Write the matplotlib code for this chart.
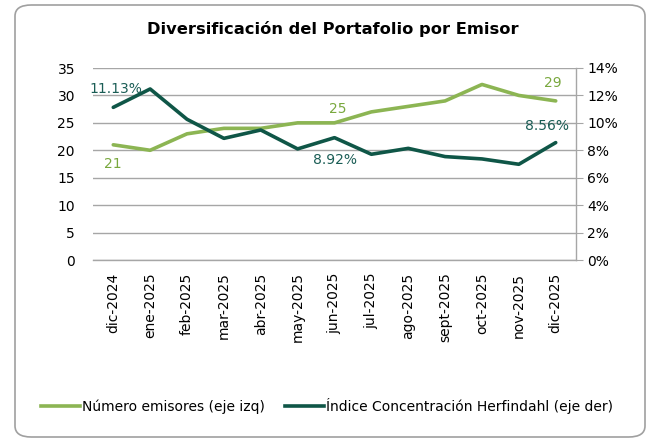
import numpy as np
import matplotlib.pyplot as plt
from matplotlib.patches import FancyBboxPatch
from matplotlib.ticker import FuncFormatter

# data
months = ['dic-2024', 'ene-2025', 'feb-2025', 'mar-2025', 'abr-2025', 'may-2025',
          'jun-2025', 'jul-2025', 'ago-2025', 'sept-2025', 'oct-2025', 'nov-2025', 'dic-2025']
emisores = [21, 20, 23, 24, 24, 25, 25, 27, 28, 29, 32, 30, 29]
herfindahl = [11.13, 12.47, 10.26, 8.87, 9.48, 8.10, 8.92, 7.71, 8.14, 7.54, 7.37, 6.98, 8.56]

light = '#8cb553'
dark = '#0f5647'
light_txt = '#79a83e'
dark_txt = '#1a5d55'
grid_c = '#a6a6a6'
fs = 10

plt.rcParams['font.family'] = 'DejaVu Sans'

fig = plt.figure(figsize=(6.53, 4.42), dpi=100)
ax = fig.add_axes([93 / 653, 1 - 260 / 442, (576 - 93) / 653, (260 - 68) / 442])
ax2 = ax.twinx()

# rounded frame around the whole chart
frame = FancyBboxPatch((15 / 653, 5 / 442), (645 - 15) / 653, (437 - 5) / 442,
                       boxstyle='round,pad=0,rounding_size=0.025',
                       transform=fig.transFigure, fill=False, ec='#a0a0a0', lw=1.2)
fig.patches.append(frame)

x = np.arange(len(months))
ax.plot(x, emisores, color=light, lw=2.6, solid_capstyle='round', zorder=3)
ax2.plot(x, herfindahl, color=dark, lw=2.6, solid_capstyle='round', zorder=3)

ax.set_xlim(-0.55, len(months) - 0.45)
ax.set_ylim(0, 35)
ax.set_yticks(range(0, 36, 5))
ax2.set_ylim(0, 14)
ax2.set_yticks(range(0, 15, 2))
ax2.yaxis.set_major_formatter(FuncFormatter(lambda v, p: f'{v:.0f}%'))

ax.grid(axis='y', color=grid_c, lw=1.0)
ax.set_axisbelow(True)
for s in ['top', 'left']:
    ax.spines[s].set_visible(False)
    ax2.spines[s].set_visible(False)
ax.spines['right'].set_visible(False)
ax2.spines['bottom'].set_visible(False)
ax.spines['bottom'].set_color(grid_c)
ax.spines['bottom'].set_linewidth(1.0)
ax2.spines['right'].set_color(grid_c)
ax2.spines['right'].set_linewidth(1.0)

ax.set_xticks(x)
ax.set_xticklabels(months, rotation=90, fontsize=fs)
ax.tick_params(axis='x', length=0, pad=9)
ax.tick_params(axis='y', length=0, labelsize=fs, pad=13)
ax2.tick_params(axis='y', length=5, color=grid_c, labelsize=fs, pad=3)

# point labels
ax.annotate('21', (0, emisores[0]), xytext=(0, -17), textcoords='offset points',
            ha='center', color=light_txt, fontsize=fs)
ax.annotate('25', (6, emisores[6]), xytext=(2, 7), textcoords='offset points',
            ha='center', color=light_txt, fontsize=fs)
ax.annotate('29', (12, emisores[12]), xytext=(-2, 10), textcoords='offset points',
            ha='center', color=light_txt, fontsize=fs)
ax2.annotate('11.13%', (0, herfindahl[0]), xytext=(2, 10), textcoords='offset points',
             ha='center', color=dark_txt, fontsize=fs)
ax2.annotate('8.92%', (6, herfindahl[6]), xytext=(0, -19), textcoords='offset points',
             ha='center', color=dark_txt, fontsize=fs)
ax2.annotate('8.56%', (12, herfindahl[12]), xytext=(-6, 9), textcoords='offset points',
             ha='center', color=dark_txt, fontsize=fs)

fig.text(333 / 653, 1 - 29 / 442, 'Diversificación del Portafolio por Emisor',
         ha='center', va='center', fontsize=11.7, fontweight='bold')

h1, = ax.plot([], [], color=light, lw=2.6, label='Número emisores (eje izq)')
h2, = ax.plot([], [], color=dark, lw=2.6, label='Índice Concentración Herfindahl (eje der)')
fig.legend(handles=[h1, h2], loc='center', bbox_to_anchor=(327 / 653, 1 - 406 / 442),
           ncol=2, frameon=False, fontsize=fs, handlelength=2.8, handletextpad=0.1,
           columnspacing=1.5)

fig.savefig('out.png', dpi=100)
